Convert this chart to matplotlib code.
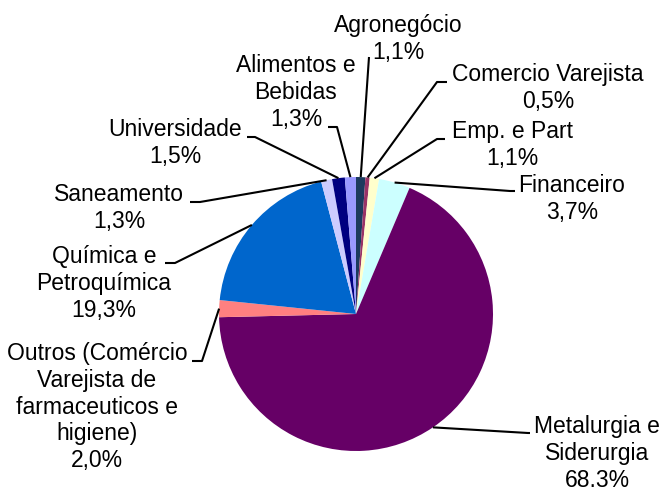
import matplotlib
matplotlib.use('Agg')
import matplotlib.pyplot as plt
import numpy as np

# data, clockwise from 12 o'clock
sectors = ['Agronegócio', 'Comercio Varejista', 'Emp. e Part', 'Financeiro',
           'Metalurgia e\nSiderurgia', 'Outros (Comércio\nVarejista de\nfarmaceuticos e\nhigiene)',
           'Química e\nPetroquímica', 'Saneamento', 'Universidade', 'Alimentos e\nBebidas']
shares = [1.1, 0.5, 1.1, 3.7, 68.3, 2.0, 19.3, 1.3, 1.5, 1.3]
share_text = ['1,1%', '0,5%', '1,1%', '3,7%', '68.3%', '2,0%', '19,3%', '1,3%', '1,5%', '1,3%']
colors = ['#1C3A5E', '#993366', '#FFFFCC', '#CCFFFF', '#660066',
          '#FF8080', '#0066CC', '#CCCCFF', '#000080', '#9999FF']

# label layout in pixel coords (y down): center x, first baseline
label_pos = [(398, 32), (548, 81), (512, 138), (572, 192), (597, 433),
             (97, 360), (104, 263), (119, 201), (175, 136), (296, 72)]
# leader line points from the label side (the pie end is added from the wedge)
leader_pts = [[(369, 57)],
              [(447, 82), (437, 82)],
              [(445, 139), (437, 139)],
              [(515, 191), (510, 191)],
              [(530, 433), (528, 433)],
              [(192, 361), (202, 361)],
              [(165, 263), (175, 263)],
              [(190, 202), (200, 202)],
              [(247, 137), (255, 137)],
              [(328, 127), (337, 127)]]

W, H = 664, 488
line_pitch = 26.8

fig = plt.figure(figsize=(W / 100, H / 100), dpi=100)
ax = fig.add_axes([0, 0, 1, 1])

# y axis is inverted below, so counterclock here shows up clockwise
wedges, _ = ax.pie(shares, colors=colors, startangle=-90, counterclock=True,
                   center=(356, 314), radius=137, frame=True,
                   wedgeprops=dict(linewidth=0, antialiased=True))
ax.set_xlim(0, W)
ax.set_ylim(H, 0)  # y down like the picture
ax.set_aspect('equal')
ax.axis('off')

for i, w in enumerate(wedges):
    mid = np.deg2rad((w.theta1 + w.theta2) / 2)
    cx, cy = w.center
    px, py = cx + w.r * np.cos(mid), cy + w.r * np.sin(mid)
    pts = leader_pts[i] + [(px, py)]
    xs, ys = zip(*pts)
    ax.plot(xs, ys, color='black', lw=1.5, solid_capstyle='butt')

    lines = sectors[i].split('\n') + [share_text[i]]
    x0, y0 = label_pos[i]
    for k, s in enumerate(lines):
        ax.text(x0, y0 + k * line_pitch, s, ha='center', va='baseline',
                fontsize=16.5, family='Liberation Sans', color='black')

fig.savefig('out.png', dpi=100)
